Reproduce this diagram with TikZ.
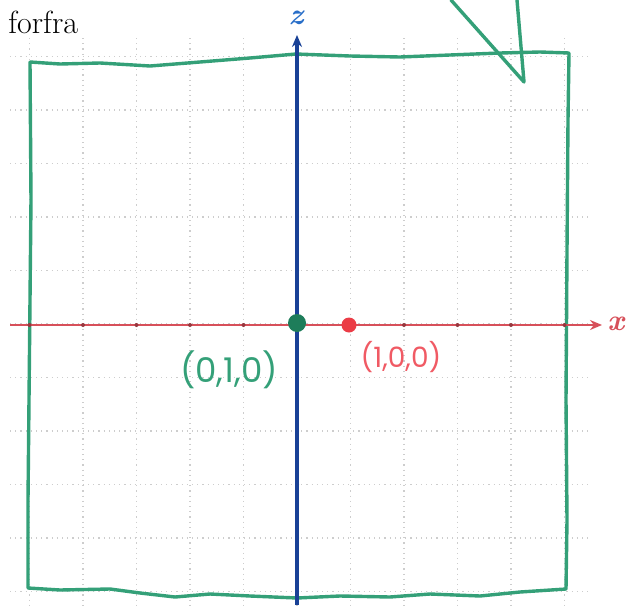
\documentclass[tikz,border=0pt]{standalone}
\usepackage{fontspec}
\newfontfamily\handfont{Poppins}
\usetikzlibrary{arrows.meta}
\definecolor{boxgreen}{RGB}{52,160,120}
\definecolor{dotgreen}{RGB}{30,125,90}
\definecolor{axred}{RGB}{215,80,90}
\definecolor{dotred}{RGB}{235,60,70}
\definecolor{lblred}{RGB}{240,90,100}
\definecolor{axblue}{RGB}{25,65,150}
\definecolor{lblblue}{RGB}{40,110,200}
\definecolor{gridgray}{RGB}{205,205,205}
\tikzset{
  gridline/.style={gridgray, line width=0.6pt, dotted},
  sketch/.style={boxgreen, line width=1.7pt, line join=round, line cap=round},
  axisz/.style={axblue, line width=1.6pt, -{Stealth[length=6pt,width=5pt]}},
  axisx/.style={axred, line width=1pt, -{Stealth[length=6pt,width=5pt]}},
  tickdot/.style={circle, fill=#1, inner sep=0pt, minimum size=2pt},
  handlbl/.style={font=\handfont\fontsize{#1}{#1}\selectfont}
}
\begin{document}
\begin{tikzpicture}[x=0.5pt,y=-0.5pt]
\useasboundingbox (0,0) rectangle (626,605);
% grid
\foreach \k in {-5,...,5} {
  \draw[gridline] (297+\k*53.5,38) -- (297+\k*53.5,605);
  \draw[gridline] (10,324+\k*53.5) -- (592,324+\k*53.5);
}
% hand-drawn box
\draw[sketch] (30,62) -- (60,64) -- (100,63) -- (150,66) -- (200,62) -- (250,58) -- (296,54)
  -- (350,56) -- (400,57) -- (450,55) -- (500,53) -- (540,52) -- (569,53)
  -- (568,120) -- (567,250) -- (566,400) -- (567,520) -- (566,589)
  -- (520,592) -- (480,596) -- (430,594) -- (390,597) -- (340,596) -- (297,598)
  -- (250,596) -- (210,594) -- (175,597) -- (140,593) -- (110,589) -- (60,590) -- (28,588)
  -- (28,500) -- (29,400) -- (30,300) -- (31,200) -- (30,62);
% V strokes
\coordinate (v1) at (451,0);
\coordinate (v2) at (517,0);
\coordinate (vt) at (524,82);
\draw[sketch] (v1) -- (vt) -- (v2);
% axes
\coordinate (xs) at (10,325);
\coordinate (xe) at (602,325);
\coordinate (zs) at (297,605);
\coordinate (ze) at (297,35);
\draw[axisx] (xs) -- (xe);
\draw[axisz] (zs) -- (ze);
\foreach \k in {-5,...,5} {
  \node[tickdot=axred!70!black] at (297+\k*53.5,325) {};
  \node[tickdot=axblue] at (297,324+\k*53.5) {};
}
\node[text=axred, font=\fontsize{15}{15}\selectfont\bfseries\itshape, anchor=west, inner sep=0pt] (xl) at (607,324) {x};
\node[text=lblblue, font=\fontsize{15}{15}\selectfont\bfseries\itshape, inner sep=0pt] (zl) at (296,18) {z};
% points
\node[circle, fill=dotgreen, inner sep=0pt, minimum size=9pt] (p010) at (297,323) {};
\node[circle, fill=dotred, inner sep=0pt, minimum size=7.5pt] (p100) at (349,325) {};
\node[handlbl=17, text=boxgreen] (l010) at (229,370) {(0,1,0)};
\node[handlbl=14, text=lblred] (l100) at (401,357) {(1,0,0)};
% title
\node[anchor=north west, font=\fontsize{16}{16}\selectfont, inner sep=0pt] (title) at (8,11) {forfra};
\end{tikzpicture}
\end{document}
